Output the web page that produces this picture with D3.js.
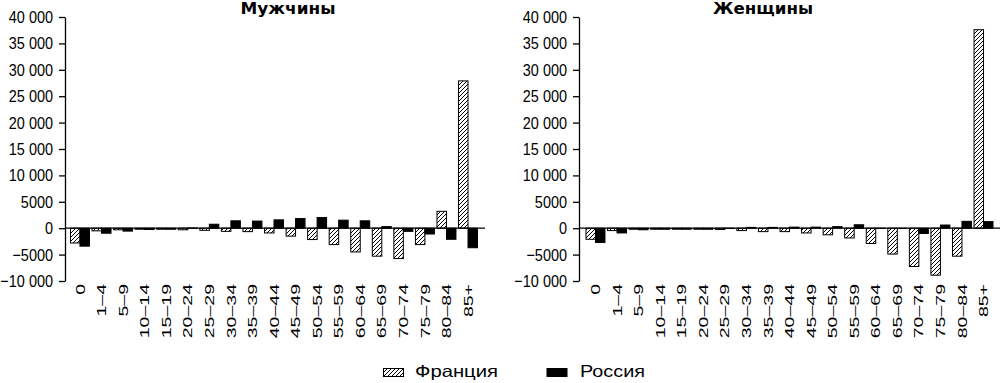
<!DOCTYPE html>
<html>
<head>
<meta charset="utf-8">
<script src="https://cdn.jsdelivr.net/npm/d3@7"></script>
<style>
  html, body { margin: 0; padding: 0; background: #fff; }
  svg { display: block; }
  text { font-family: "Liberation Sans", Arial, sans-serif; fill: #000; }
</style>
</head>
<body>
<svg id="chart" width="1000" height="383"></svg>
<script>
// ---- data ----
const categories = ["0","1–4","5–9","10–14","15–19","20–24","25–29","30–34","35–39","40–44","45–49","50–54","55–59","60–64","65–69","70–74","75–79","80–84","85+"];
const menFrance   = [-2800, -500, -300, -200, -200, -300, -400, -600, -650, -900, -1500, -2150, -3100, -4500, -5300, -5750, -3100, 3200, 27900];
const menRussia   = [-3400, -950, -550, -250, -200, 50, 750, 1400, 1350, 1580, 1830, 2020, 1520, 1400, 300, -600, -1100, -2100, -3700];
const womenFrance = [-2100, -450, -200, -200, -200, -200, -250, -450, -650, -650, -900, -1250, -1850, -2900, -4900, -7250, -8900, -5300, 37600];
const womenRussia = [-2700, -900, -300, -200, -200, -200, -50, 150, 150, 200, 200, 300, 650, -30, -30, -1000, 600, 1300, 1250];
const yTickValues = [-10000, -5000, 0, 5000, 10000, 15000, 20000, 25000, 30000, 35000, 40000];
const yTickLabels = ["−10 000", "−5000", "0", "5000", "10 000", "15 000", "20 000", "25 000", "30 000", "35 000", "40 000"];
const seriesNames = ["Франция", "Россия"];
const panelTitles = ["Мужчины", "Женщины"];

const svg = d3.select("#chart");
svg.append("rect").attr("width", 1000).attr("height", 383).attr("fill", "#fff");

// hatch pattern
const defs = svg.append("defs");
const pat = defs.append("pattern").attr("id", "hatch")
  .attr("patternUnits", "userSpaceOnUse").attr("width", 4).attr("height", 4);
pat.append("rect").attr("width", 4).attr("height", 4).attr("fill", "#fff");
pat.append("path").attr("d", "M-1,1 L1,-1 M0,4 L4,0 M3,5 L5,3")
  .attr("stroke", "#000").attr("stroke-width", 1);

const fills = ["url(#hatch)", "#000"];

const y = d3.scaleLinear().domain([-10000, 40000]).range([281, 17]);

function fitText(sel, factor) {
  sel.each(function() {
    const w = this.getComputedTextLength();
    d3.select(this).attr("textLength", w * factor).attr("lengthAdjust", "spacingAndGlyphs");
  });
}

const panels = [
  { axisX: 65,  xRange: [69.2, 478.8], lineEnd: 485,  titleX: 288, titleW: 95,  data: [menFrance, menRussia] },
  { axisX: 579, xRange: [584.7, 994.3], lineEnd: 1000, titleX: 763, titleW: 100, data: [womenFrance, womenRussia] }
];

panels.forEach((p, pi) => {
  const g = svg.append("g");
  const x0 = d3.scaleBand().domain(categories).range(p.xRange).paddingInner(0.12).paddingOuter(0.06);
  const x1 = d3.scaleBand().domain([0, 1]).range([0, x0.bandwidth()]);

  p.data.forEach((vals, si) => {
    g.append("g").selectAll("rect").data(vals).join("rect")
      .attr("x", (d, i) => x0(categories[i]) + x1(si))
      .attr("width", x1.bandwidth())
      .attr("y", d => y(Math.max(0, d)))
      .attr("height", d => Math.abs(y(d) - y(0)))
      .attr("fill", fills[si])
      .attr("stroke", "#000").attr("stroke-width", 1);
  });

  g.append("line").attr("x1", p.axisX).attr("x2", p.lineEnd)
    .attr("y1", y(0)).attr("y2", y(0)).attr("stroke", "#000").attr("stroke-width", 1.3);

  const yAxis = d3.axisLeft(y).tickValues(yTickValues)
    .tickFormat((d, i) => yTickLabels[i]).tickSize(6).tickPadding(6).tickSizeOuter(0);
  const ya = g.append("g").attr("transform", `translate(${p.axisX},0)`).call(yAxis);
  ya.attr("font-size", 17).attr("font-family", null);
  ya.select(".domain").attr("stroke-width", 1.3);
  ya.selectAll(".tick line").attr("stroke-width", 1.3);
  ya.selectAll("text").attr("fill", "#000");
  fitText(ya.selectAll("text"), 0.85);

  const xAxis = d3.axisBottom(x0).tickSize(0).tickPadding(0);
  const xa = g.append("g").attr("transform", "translate(0,284)").call(xAxis);
  xa.attr("font-size", 19.5).attr("font-family", null);
  xa.select(".domain").remove();
  xa.selectAll("text")
    .attr("fill", "#000")
    .attr("text-anchor", "end")
    .attr("transform", "scale(0.66,1) rotate(-90)")
    .attr("x", 0).attr("y", 0).attr("dy", "0.36em");

  svg.append("text").attr("x", p.titleX).attr("y", 14)
    .attr("text-anchor", "middle")
    .style("font-family", "DejaVu Sans, sans-serif")
    .attr("font-weight", "bold").attr("font-size", 16)
    .attr("textLength", p.titleW).attr("lengthAdjust", "spacingAndGlyphs")
    .text(panelTitles[pi]);
});

const legendItems = [
  { bx: 383.5, tx: 415, tw: 83 },
  { bx: 547,   tx: 580, tw: 65 }
];
const lg = svg.append("g");
legendItems.forEach((it, i) => {
  lg.append("rect").attr("x", it.bx).attr("y", 368.5).attr("width", 20).attr("height", 8)
    .attr("fill", fills[i]).attr("stroke", "#000").attr("stroke-width", 1);
  lg.append("text").attr("x", it.tx).attr("y", 377)
    .attr("font-size", 16.5)
    .attr("textLength", it.tw).attr("lengthAdjust", "spacingAndGlyphs")
    .text(seriesNames[i]);
});
</script>
</body>
</html>
